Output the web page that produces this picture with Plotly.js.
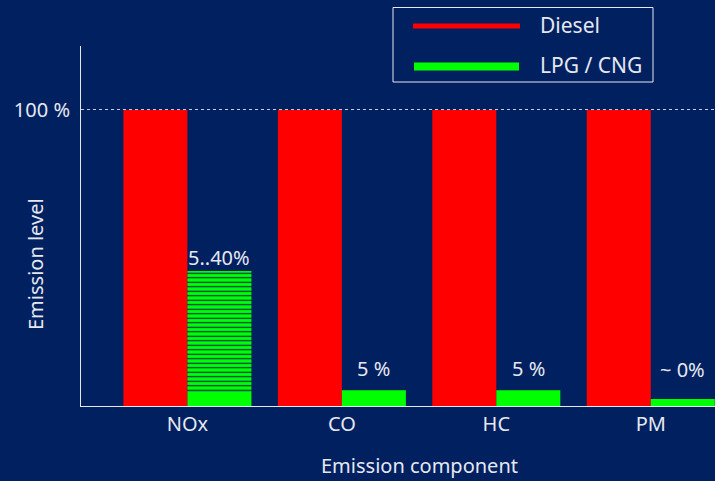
<!DOCTYPE html>
<html>
<head>
<meta charset="utf-8">
<script src="https://cdn.plot.ly/plotly-3.0.1.min.js"></script>
<style>html,body{margin:0;padding:0;background:#002060;}#chart{width:715px;height:481px;}</style>
</head>
<body>
<div id="chart"></div>
<script>
// ---- data ----
var categories = ['NOx', 'CO', 'HC', 'PM'];
var dieselValues = [100, 100, 100, 100];
var lpgValues = [5, 5.3, 5.3, 2.4];          // solid green part
var noxRangeLow = [5];                         // striped NOx range (low .. high)
var noxRangeHigh = [45.6];
var barLabels = ['5..40%', '5 %', '5 %', '~ 0%'];
var labelHeights = [50.3, 12.8, 12.8, 12.2];
var yTickVals = [100];
var yTickText = ['100 %'];
var seriesNames = ['Diesel', 'LPG / CNG'];

var BG = '#002060', TXT = '#e6e8f0', RED = '#ff0000', GREEN = '#00ff00';
var FONT = 'Noto Sans, sans-serif';
var W = 0.4145;

var traces = [
  {type: 'bar', x: categories, y: dieselValues, name: seriesNames[0],
   marker: {color: RED, line: {width: 0}}, width: W, offset: -W, showlegend: false, hoverinfo: 'skip'},
  {type: 'bar', x: categories, y: lpgValues, name: seriesNames[1],
   marker: {color: GREEN, line: {width: 0}}, width: W, offset: 0, showlegend: false, hoverinfo: 'skip'},
  {type: 'bar', x: [categories[0]], y: [noxRangeHigh[0] - noxRangeLow[0]], base: noxRangeLow,
   marker: {color: GREEN, line: {width: 0},
            pattern: {shape: '-', fillmode: 'replace', bgcolor: GREEN, fgcolor: BG, size: 4.5, solidity: 0.25}},
   width: W, offset: 0, showlegend: false, hoverinfo: 'skip'}
];

// pixel -> paper helpers (plot area 81..715 x, 46..406 y)
function px(x) { return (x - 81) / 634; }
function py(y) { return (406 - y) / 360; }

var annotations = [];
for (var i = 0; i < categories.length; i++) {
  annotations.push({x: i + W / 2, xref: 'x', y: labelHeights[i], yref: 'y', text: barLabels[i],
    showarrow: false, xanchor: 'center', yanchor: 'middle', font: {family: FONT, size: 20, color: TXT}});
}
annotations.push({x: px(35), y: py(264), xref: 'paper', yref: 'paper', text: 'Emission level', textangle: -90,
  showarrow: false, xanchor: 'center', yanchor: 'middle', font: {family: FONT, size: 20, color: TXT}});
annotations.push({x: px(419), y: py(465), xref: 'paper', yref: 'paper', text: 'Emission component',
  showarrow: false, xanchor: 'center', yanchor: 'middle', font: {family: FONT, size: 20, color: TXT}});
annotations.push({x: px(538), y: py(25), xref: 'paper', yref: 'paper', text: seriesNames[0],
  showarrow: false, xanchor: 'left', yanchor: 'middle', font: {family: FONT, size: 21, color: TXT}});
annotations.push({x: px(538), y: py(65), xref: 'paper', yref: 'paper', text: seriesNames[1],
  showarrow: false, xanchor: 'left', yanchor: 'middle', font: {family: FONT, size: 21, color: TXT}});

var shapes = [
  {type: 'rect', xref: 'paper', yref: 'paper', x0: px(393), x1: px(653), y0: py(82), y1: py(7.5),
   line: {color: TXT, width: 1}, fillcolor: 'rgba(0,0,0,0)'},
  {type: 'line', xref: 'paper', yref: 'paper', x0: px(413), x1: px(520), y0: py(26), y1: py(26),
   line: {color: RED, width: 5}},
  {type: 'line', xref: 'paper', yref: 'paper', x0: px(414), x1: px(519), y0: py(66.5), y1: py(66.5),
   line: {color: GREEN, width: 8}}
];

var layout = {
  width: 715, height: 481,
  paper_bgcolor: BG, plot_bgcolor: BG,
  margin: {l: 81, r: 0, t: 46, b: 75, pad: 0},
  barmode: 'overlay',
  showlegend: false,
  font: {family: FONT, size: 20, color: TXT},
  xaxis: {type: 'category', range: [-0.689, 3.416], showline: true, linecolor: TXT, linewidth: 1,
    ticks: '', showgrid: false, zeroline: false, tickfont: {family: FONT, size: 20, color: TXT}, fixedrange: true},
  yaxis: {range: [0, 121.6], showline: true, linecolor: TXT, linewidth: 1, ticks: '',
    tickvals: yTickVals, ticktext: yTickText, showgrid: true, gridcolor: '#c8cce0', griddash: 'dot', gridwidth: 1,
    zeroline: false, tickfont: {family: FONT, size: 20, color: TXT}, ticklabelstandoff: 6, fixedrange: true},
  annotations: annotations,
  shapes: shapes
};

Plotly.newPlot('chart', traces, layout, {displayModeBar: false, staticPlot: true});
</script>
</body>
</html>
